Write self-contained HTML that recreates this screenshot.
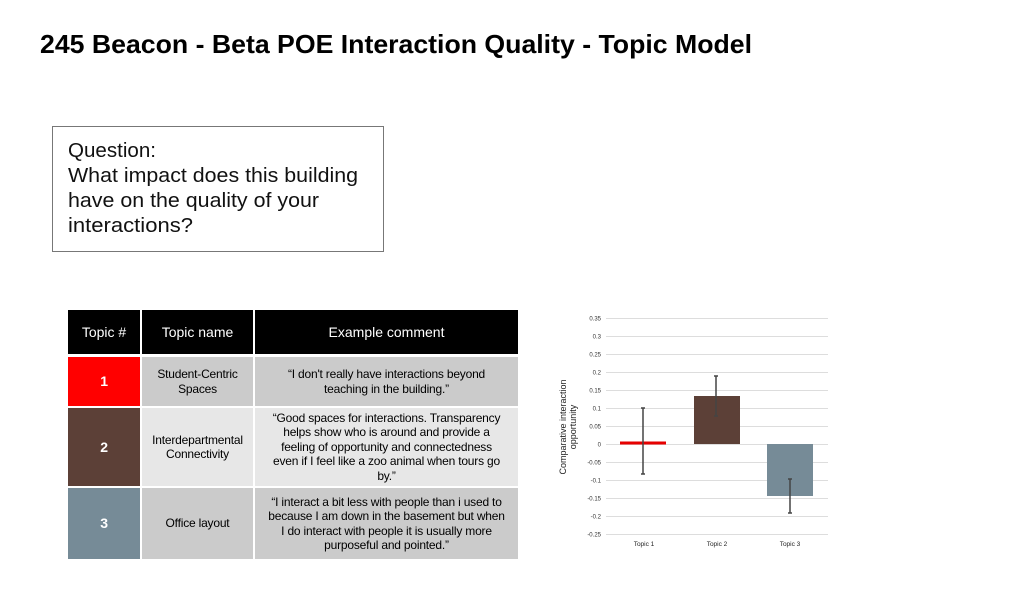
<!DOCTYPE html>
<html><head><meta charset="utf-8"><style>
body{margin:0;width:1024px;height:600px;background:#fff;position:relative;overflow:hidden;font-family:"Liberation Sans",sans-serif}
.c{position:absolute;display:flex;align-items:center;justify-content:center;text-align:center;font-size:12px;line-height:14.5px;color:#000;box-sizing:border-box;white-space:nowrap;letter-spacing:-0.2px}
.h{background:#000;color:#fff;font-size:14px;letter-spacing:0}
.n{color:#fff;font-weight:bold;font-size:14px}
</style></head><body>
<svg width="1024" height="600" style="position:absolute;left:0;top:0">
<text x="40" y="53" font-size="26" font-weight="bold" textLength="712" lengthAdjust="spacingAndGlyphs" font-family="Liberation Sans">245 Beacon - Beta POE Interaction Quality - Topic Model</text>
<rect x="52.5" y="126.5" width="331" height="125" fill="none" stroke="#777" stroke-width="1"/>
<g font-size="20" fill="#111" font-family="Liberation Sans">
<text x="68" y="157" textLength="88" lengthAdjust="spacingAndGlyphs">Question:</text>
<text x="68" y="182" textLength="290" lengthAdjust="spacingAndGlyphs">What impact does this building</text>
<text x="68" y="207" textLength="251" lengthAdjust="spacingAndGlyphs">have on the quality of your</text>
<text x="68" y="232" textLength="125" lengthAdjust="spacingAndGlyphs">interactions?</text>
</g>
<g stroke="#ddd" stroke-width="1">
<line x1="606" x2="828" y1="318.5" y2="318.5"/><line x1="606" x2="828" y1="336.5" y2="336.5"/><line x1="606" x2="828" y1="354.5" y2="354.5"/><line x1="606" x2="828" y1="372.5" y2="372.5"/><line x1="606" x2="828" y1="390.5" y2="390.5"/><line x1="606" x2="828" y1="408.5" y2="408.5"/><line x1="606" x2="828" y1="426.5" y2="426.5"/><line x1="606" x2="828" y1="444.5" y2="444.5"/><line x1="606" x2="828" y1="462.5" y2="462.5"/><line x1="606" x2="828" y1="480.5" y2="480.5"/><line x1="606" x2="828" y1="498.5" y2="498.5"/><line x1="606" x2="828" y1="516.5" y2="516.5"/><line x1="606" x2="828" y1="534.5" y2="534.5"/>
</g>
<g font-size="6" fill="#333" text-anchor="end" font-family="Liberation Sans">
<text x="601" y="320.5">0.35</text><text x="601" y="338.5">0.3</text><text x="601" y="356.5">0.25</text><text x="601" y="374.5">0.2</text><text x="601" y="392.5">0.15</text><text x="601" y="410.5">0.1</text><text x="601" y="428.5">0.05</text><text x="601" y="446.5">0</text><text x="601" y="464.5">-0.05</text><text x="601" y="482.5">-0.1</text><text x="601" y="500.5">-0.15</text><text x="601" y="518.5">-0.2</text><text x="601" y="536.5">-0.25</text>
</g>
<rect x="620" y="441.5" width="46" height="3" fill="#e60000"/>
<rect x="694" y="396" width="46" height="48" fill="#5c4037"/>
<rect x="767" y="444" width="46" height="52" fill="#768b97"/>
<g stroke="#444" stroke-width="1.5">
<line x1="643" x2="643" y1="408" y2="474"/><line x1="641" x2="645" y1="408" y2="408"/><line x1="641" x2="645" y1="474" y2="474"/>
<line x1="716" x2="716" y1="376" y2="416"/><line x1="714" x2="718" y1="376" y2="376"/><line x1="714" x2="718" y1="416" y2="416"/>
<line x1="790" x2="790" y1="479" y2="513"/><line x1="788" x2="792" y1="479" y2="479"/><line x1="788" x2="792" y1="513" y2="513"/>
</g>
<g font-size="6.5" fill="#222" text-anchor="middle" font-family="Liberation Sans">
<text x="644" y="546">Topic 1</text><text x="717" y="546">Topic 2</text><text x="790" y="546">Topic 3</text>
</g>
<g font-size="9" fill="#222" text-anchor="middle" font-family="Liberation Sans" transform="translate(568,427) rotate(-90)">
<text x="0" y="-2">Comparative interaction</text><text x="0" y="8">opportunity</text>
</g>
</svg>
<div class="c h" style="left:68px;top:310px;width:72px;height:44px">Topic #</div>
<div class="c h" style="left:142px;top:310px;width:111px;height:44px">Topic name</div>
<div class="c h" style="left:255px;top:310px;width:263px;height:44px">Example comment</div>
<div class="c n" style="left:68px;top:357px;width:72px;height:49px;background:#f00">1</div>
<div class="c" style="left:142px;top:357px;width:111px;height:49px;background:#cbcbcb">Student-Centric<br>Spaces</div>
<div class="c" style="left:255px;top:357px;width:263px;height:49px;background:#cbcbcb">“I don't really have interactions beyond<br>teaching in the building.”</div>
<div class="c n" style="left:68px;top:408px;width:72px;height:78px;background:#5c4037">2</div>
<div class="c" style="left:142px;top:408px;width:111px;height:78px;background:#e7e7e7">Interdepartmental<br>Connectivity</div>
<div class="c" style="left:255px;top:408px;width:263px;height:78px;background:#e7e7e7">“Good spaces for interactions. Transparency<br>helps show who is around and provide a<br>feeling of opportunity and connectedness<br>even if I feel like a zoo animal when tours go<br>by.”</div>
<div class="c n" style="left:68px;top:488px;width:72px;height:71px;background:#768b97">3</div>
<div class="c" style="left:142px;top:488px;width:111px;height:71px;background:#cbcbcb">Office layout</div>
<div class="c" style="left:255px;top:488px;width:263px;height:71px;background:#cbcbcb">“I interact a bit less with people than i used to<br>because I am down in the basement but when<br>I do interact with people it is usually more<br>purposeful and pointed.”</div>
</body></html>
